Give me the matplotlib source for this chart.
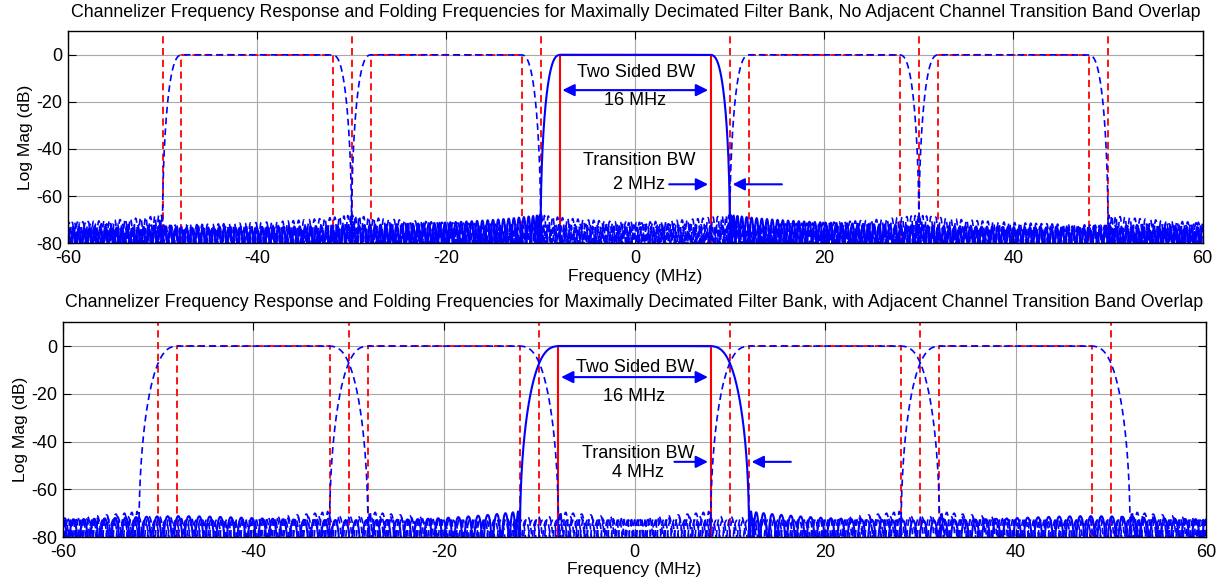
import numpy as np
import matplotlib
matplotlib.use('Agg')
import matplotlib.pyplot as plt

plt.rcParams['font.family'] = ['Liberation Sans', 'DejaVu Sans']
plt.rcParams['axes.unicode_minus'] = False

# sample rate and channel layout (MHz)
fs = 120.0
channel_centers = [-40, -20, 0, 20, 40]
passband_edge = 8.0
stop_edges = [10.0, 12.0]          # top panel, bottom panel
num_taps = [211, 111]
stop_weights = [5.0, 3.5]
folding_freqs = [-50, -30, -10, 10, 30, 50]

titles = ['Channelizer Frequency Response and Folding Frequencies for Maximally Decimated Filter Bank, No Adjacent Channel Transition Band Overlap',
          'Channelizer Frequency Response and Folding Frequencies for Maximally Decimated Filter Bank, with Adjacent Channel Transition Band Overlap']
trans_labels = ['2 MHz', '4 MHz']

# annotation heights (dB): [top, bottom]
two_sided_y = [-7.5, -9]
bw_arrow_y = [-15, -13]
bw_label_y = [-19.5, -21]
trans_text_y = [-45, -45]
trans_label_y = [-55, -53]
trans_arrow_y = [-55, -48.5]
trans_arrow_from = [[3.3, 15.8], [3.9, 16.7]]


def design_lowpass(ntaps, f_pass, f_stop, stop_weight, n_iter=2):
    # least squares with a couple of Lawson reweighting steps
    m = (ntaps - 1) // 2
    k = np.arange(m + 1)
    fp = np.linspace(0, f_pass, 400)
    fsb = np.linspace(f_stop, fs / 2, 2500)
    f = np.concatenate([fp, fsb])
    d = np.concatenate([np.ones_like(fp), np.zeros_like(fsb)])
    w0 = np.concatenate([np.ones_like(fp), stop_weight * np.ones_like(fsb)])
    C = np.cos(2 * np.pi * np.outer(f, k) / fs)
    w = w0.copy()
    for _ in range(n_iter + 1):
        sw = np.sqrt(w)
        a = np.linalg.lstsq(C * sw[:, None], d * sw, rcond=None)[0]
        e = w0 * np.abs(C @ a - d)
        w = w * e
        w = w / w.mean()
    return a


def response_db(a, f):
    k = np.arange(len(a))
    amp = np.cos(2 * np.pi * np.outer(f, k) / fs) @ a
    return 20 * np.log10(np.maximum(np.abs(amp), 1e-10))


freq = np.linspace(-60, 60, 12001)

fig = plt.figure(figsize=(12.2, 5.79), dpi=100)
positions = [[0.0557, 0.580, 0.930, 0.366], [0.0516, 0.0725, 0.937, 0.371]]
title_pads = [10, 11]

for p in range(2):
    ax = fig.add_axes(positions[p])
    a = design_lowpass(num_taps[p], passband_edge, stop_edges[p], stop_weights[p])

    # folding frequencies and ideal pass bands
    for x in folding_freqs:
        ax.plot([x, x], [-80, 10], color='red', ls='--', lw=1.3, dashes=(4, 2.5))
    for fc in channel_centers:
        xs = [fc - passband_edge, fc - passband_edge, fc + passband_edge, fc + passband_edge]
        if fc == 0:
            ax.plot(xs, [-80, 0, 0, -80], color='red', ls='-', lw=1.5)
        else:
            ax.plot(xs, [-80, 0, 0, -80], color='red', ls='--', lw=1.3, dashes=(4, 2.5))

    # channel filter responses
    for fc in channel_centers:
        if fc != 0:
            ax.plot(freq, response_db(a, freq - fc), color='blue', ls='--', lw=1.2, dashes=(4, 2.5))
    ax.plot(freq, response_db(a, freq), color='blue', ls='-', lw=1.5)

    # annotations
    ax.text(0.1, two_sided_y[p], 'Two Sided BW', ha='center', va='center', fontsize=13)
    ax.annotate('', xy=(passband_edge, bw_arrow_y[p]), xytext=(-passband_edge, bw_arrow_y[p]),
                arrowprops=dict(arrowstyle='<|-|>', color='blue', lw=1.5, mutation_scale=18))
    ax.text(0, bw_label_y[p], '16 MHz', ha='center', va='center', fontsize=13)
    ax.text(0.4, trans_text_y[p], 'Transition BW', ha='center', va='center', fontsize=13)
    ax.text(0.4, trans_label_y[p], trans_labels[p], ha='center', va='center', fontsize=13)
    ax.annotate('', xy=(passband_edge, trans_arrow_y[p]), xytext=(trans_arrow_from[p][0], trans_arrow_y[p]),
                arrowprops=dict(arrowstyle='-|>', color='blue', lw=1.5, mutation_scale=18))
    ax.annotate('', xy=(stop_edges[p], trans_arrow_y[p]), xytext=(trans_arrow_from[p][1], trans_arrow_y[p]),
                arrowprops=dict(arrowstyle='-|>', color='blue', lw=1.5, mutation_scale=18))

    ax.set_xlim(-60, 60)
    ax.set_ylim(-80, 10)
    ax.set_xticks(np.arange(-60, 61, 20))
    ax.set_yticks(np.arange(-80, 1, 20))
    ax.grid(True, color='#a8a8a8', lw=0.8)
    ax.set_axisbelow(True)
    ax.tick_params(direction='in', top=True, right=True, length=6, labelsize=13)
    ax.tick_params(axis='x', pad=5)
    ax.tick_params(axis='y', pad=4)
    for s in ax.spines.values():
        s.set_linewidth(1.0)
    ax.set_xlabel('Frequency (MHz)', fontsize=12.5, labelpad=1)
    ax.set_ylabel('Log Mag (dB)', fontsize=12.5, labelpad=2)
    ax.set_title(titles[p], fontsize=12.75, pad=title_pads[p])

fig.savefig('out.png', dpi=100)
